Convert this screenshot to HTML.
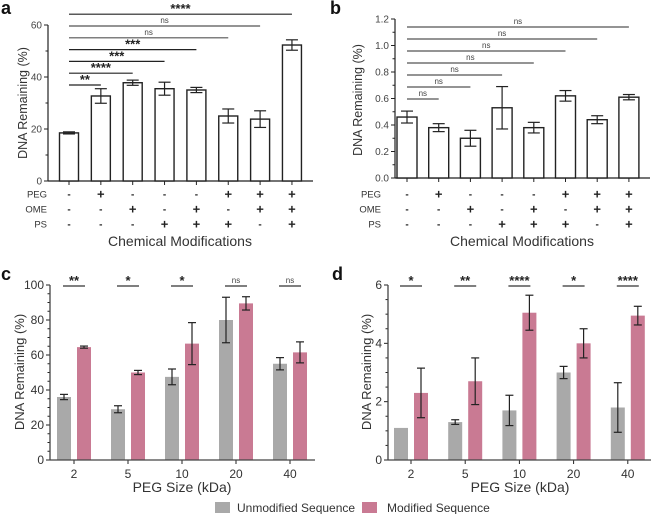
<!DOCTYPE html>
<html><head><meta charset="utf-8"><style>
body{margin:0;background:#fff}
svg{font-family:"Liberation Sans",Arial,sans-serif;display:block}
</style></head><body>
<svg id="fig" width="651" height="514" viewBox="0 0 651 514"></svg>
<script>
// Panel a data
const aCats=[0,1,2,3,4,5,6,7];
const aVals=[18.5,32.7,37.8,35.5,35,25,23.8,52.3];
const aErr=[0.4,2.8,1,2.5,1,2.7,3.2,2];
const aSig=['**','****','***','***','ns','ns','****'];
// Panel b data
const bVals=[0.46,0.38,0.30,0.53,0.38,0.62,0.44,0.61];
const bErr=[0.045,0.03,0.06,0.16,0.04,0.04,0.03,0.02];
const bSig=['ns','ns','ns','ns','ns','ns','ns'];
// modification rows
const rowPEG=['-','+','-','-','-','+','+','+'];
const rowOME=['-','-','+','-','+','-','+','+'];
const rowPS=['-','-','-','+','+','+','-','+'];
// Panels c/d
const pegSizes=['2','5','10','20','40'];
const cUnmod=[36,29,47.5,80,55];
const cUnmodErr=[1.5,2,4.5,13,3.5];
const cMod=[64.5,50,66.5,89.5,61.5];
const cModErr=[0.6,1.2,12,3.8,6];
const cSig=['**','*','*','ns','ns'];
const dUnmod=[1.1,1.3,1.7,3.0,1.8];
const dUnmodErr=[0,0.08,0.52,0.21,0.85];
const dMod=[2.3,2.7,5.05,4.0,4.95];
const dModErr=[0.85,0.8,0.6,0.5,0.32];
const dSig=['*','**','****','*','****'];
const aTicks=[0,20,40,60];
const bTicks=['0.0','0.2','0.4','0.6','0.8','1.0','1.2'];
const cTicks=[0,20,40,60,80,100];
const dTicks=[0,2,4,6];

const svg=document.getElementById('fig');
const NS='http://www.w3.org/2000/svg';
function el(tag,attrs,parent,text){const e=document.createElementNS(NS,tag);for(const k in attrs)e.setAttribute(k,attrs[k]);if(text!==undefined)e.textContent=text;(parent||svg).appendChild(e);return e;}
function line(x1,y1,x2,y2,c,w,p){return el('line',{x1,y1,x2,y2,stroke:c||'#222','stroke-width':w||1},p);}
function txt(x,y,s,size,anchor,p,extra){const a={x,y,'font-size':size,'text-anchor':anchor||'middle',fill:'#222'};if(extra)Object.assign(a,extra);return el('text',a,p,s);}

function errbar(g,x,y0,y1,cap){line(x,y0,x,y1,'#222',1.2,g);line(x-cap,y0,x+cap,y0,'#222',1.2,g);line(x-cap,y1,x+cap,y1,'#222',1.2,g);}

// ---------- panels a & b ----------
function panelAB(o){
  const g=el('g',{},svg);
  
  
  const y=v=>o.y0-(v-o.min)/(o.max-o.min)*(o.y0-o.yTop);
  const x=i=>o.x0+i*o.step;
  line(o.ax,o.yTop,o.ax,o.y0,'#222',1.2,g);
  line(o.ax,o.y0,o.axEnd,o.y0,'#222',1.2,g);
  o.ticks.forEach(t=>{const v=parseFloat(t);line(o.ax-4,y(v),o.ax,y(v),'#222',1,g);
    const tl=txt(o.ax-6,y(v)+3.5,String(t),10,'end',g,{fill:'#444'});
    });
  for(let k=0;k<o.ticks.length-1;k++){const v=(parseFloat(o.ticks[k])+parseFloat(o.ticks[k+1]))/2;line(o.ax-2.5,y(v),o.ax,y(v),'#222',1,g);}
  o.vals.forEach((v,i)=>{
    const r=el('rect',{x:x(i)-o.bw/2,y:y(v),width:o.bw,height:o.y0-y(v),fill:'#fff',stroke:'#222','stroke-width':1.4},g);
    
    errbar(g,x(i),y(v-o.err[i]),y(v+o.err[i]),6);
    line(x(i),o.y0,x(i),o.y0+4,'#222',1,g);
  });
  [['PEG',rowPEG],['OME',rowOME],['PS',rowPS]].forEach((r,ri)=>{
    const yy=o.rowY+ri*15;
    const l=txt(o.rowLabX,yy+3.5,r[0],9.5,'end',g,{fill:'#333'});
    
    r[1].forEach((s,i)=>txt(x(i),yy+(s=='+'?4.5:3.5),s==='-'?'-':'+',s=='+'?13:10,'middle',g,{'font-weight':'bold'}));
  });
  const xt=txt(o.xTitleX,246,'Chemical Modifications',14,'middle',g,{fill:'#333'});
  
  const yt=txt(0,0,'DNA Remaining (%)',12.5,'middle',g,{fill:'#333',transform:`translate(${o.ytX},${o.ytY}) rotate(-90)`});
  
  o.sig.forEach((s,k)=>{
    const yy=o.sigY0-k*o.sigStep;
    line(x(0),yy,x(k+1),yy,s==='ns'?'#555':'#222',1.2,g);
    const st=txt((x(0)+x(k+1))/2,yy-(s==='ns'?3:1),s,s==='ns'?8:13,'middle',g,{'font-weight':s==='ns'?'normal':'bold',fill:s==='ns'?'#444':'#222'});
    
  });
  const pl=txt(o.labX,14,o.lab,18,'start',g,{'font-weight':'bold',fill:'#111'});
  
}
panelAB({name:'panel-a',lab:'a',labX:1,ax:48,axEnd:313,x0:69,step:31.85,bw:19,y0:181,yTop:25,min:0,max:60,ticks:aTicks,vals:aVals,err:aErr,sig:aSig,sigY0:85,sigStep:11.8,rowY:194,rowLabX:47,xTitleX:180,ytX:27,ytY:103});
panelAB({name:'panel-b',lab:'b',labX:330,ax:395,axEnd:650,x0:407,step:31.7,bw:20,y0:178,yTop:19,min:0,max:1.2,ticks:bTicks,vals:bVals,err:bErr,sig:bSig,sigY0:99,sigStep:12,rowY:194,rowLabX:381,xTitleX:522,ytX:362,ytY:100});

// ---------- panels c & d ----------
function panelCD(o){
  const g=el('g',{},svg);
  
  
  const y=v=>o.y0-(v-o.min)/(o.max-o.min)*(o.y0-o.yTop);
  const x=i=>o.x0+i*o.step;
  o.ticks.forEach(t=>{line(o.ax-4,y(t),o.ax,y(t),'#222',1,g);
    const tl=txt(o.ax-6,y(t)+4,String(t),12,'end',g,{fill:'#333'});
    });
  const nMinor=o.minor;
  for(let k=0;k<o.ticks.length-1;k++){for(let j=1;j<nMinor;j++){const v=o.ticks[k]+(o.ticks[k+1]-o.ticks[k])*j/nMinor;line(o.ax-2.5,y(v),o.ax,y(v),'#222',1,g);}}
  pegSizes.forEach((s,i)=>{
    const r1=el('rect',{x:x(i)-o.off-o.bw/2,y:y(o.u[i]),width:o.bw,height:o.y0-y(o.u[i]),fill:'#a9a9a9'},g);
    
    const r2=el('rect',{x:x(i)+o.off-o.bw/2,y:y(o.m[i]),width:o.bw,height:o.y0-y(o.m[i]),fill:'#c97a93'},g);
    
    if(o.ue[i]>0)errbar(g,x(i)-o.off,y(o.u[i]-o.ue[i]),y(o.u[i]+o.ue[i]),4);
    errbar(g,x(i)+o.off,y(o.m[i]-o.me[i]),y(o.m[i]+o.me[i]),4);
    line(x(i),o.y0,x(i),o.y0+4,'#222',1,g);
    const tl=txt(x(i),o.y0+18,s,12,'middle',g,{fill:'#333'});
    
    const sy=286;
    line(x(i)-o.off-1,sy,x(i)+o.off+1,sy,'#333',1.2,g);
    const st=txt(x(i),sy-(o.sig[i]==='ns'?3:1),o.sig[i],o.sig[i]==='ns'?8:13,'middle',g,{'font-weight':o.sig[i]==='ns'?'normal':'bold',fill:o.sig[i]==='ns'?'#444':'#222'});
    
  });
  line(o.ax,o.yTop,o.ax,o.y0,'#444',1.3,g);
  line(o.ax,o.y0,o.axEnd,o.y0,'#444',1.3,g);
  const xt=txt(o.xTitleX,492,'PEG Size (kDa)',14,'middle',g,{fill:'#333'});
  
  const yt=txt(0,0,'DNA Remaining (%)',13,'middle',g,{fill:'#333',transform:`translate(${o.ytX},372) rotate(-90)`});
  
  const pl=txt(o.labX,280,o.lab,18,'start',g,{'font-weight':'bold',fill:'#111'});
  
}
panelCD({name:'panel-c',lab:'c',labX:1,ax:50,axEnd:315,x0:74,step:54,bw:14,off:10,y0:460,yTop:285,min:0,max:100,ticks:cTicks,minor:4,u:cUnmod,ue:cUnmodErr,m:cMod,me:cModErr,sig:cSig,xTitleX:182,ytX:24});
panelCD({name:'panel-d',lab:'d',labX:332,ax:388,axEnd:651,x0:411,step:54.2,bw:14,off:10,y0:460,yTop:285,min:0,max:6,ticks:dTicks,minor:4,u:dUnmod,ue:dUnmodErr,m:dMod,me:dModErr,sig:dSig,xTitleX:520,ytX:371});

// legend
const lg=el('g',{},svg);


const e1=el('g',{},lg);


el('rect',{x:215,y:502,width:15,height:11,fill:'#a9a9a9'},e1);
txt(237,512,'Unmodified Sequence',12,'start',e1,{fill:'#333'});
const e2=el('g',{},lg);


el('rect',{x:362,y:502,width:15,height:11,fill:'#c97a93'},e2);
txt(387,512,'Modified Sequence',12,'start',e2,{fill:'#333'});
</script>
</body></html>
